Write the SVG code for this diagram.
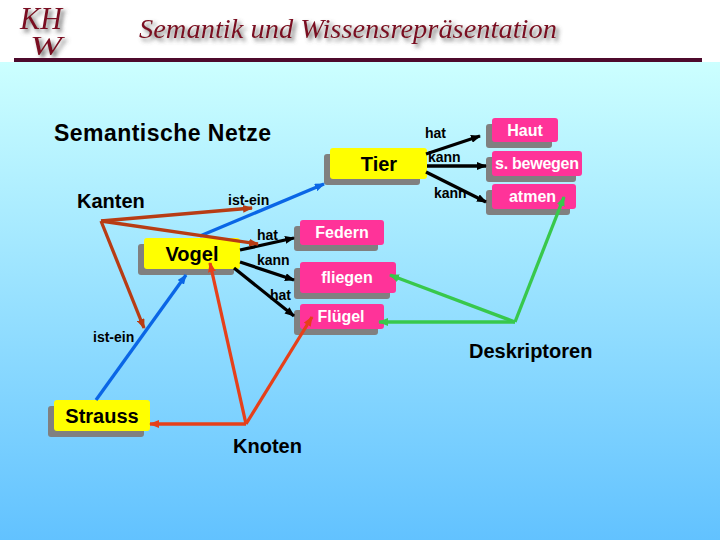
<svg xmlns="http://www.w3.org/2000/svg" width="720" height="540" viewBox="0 0 720 540">
<defs>
<linearGradient id="bg" x1="0" y1="0" x2="0" y2="1"><stop offset="0" stop-color="#ccffff"/><stop offset="1" stop-color="#62c2ff"/></linearGradient>
<filter id="soft" x="-5%" y="-30%" width="112%" height="170%"><feDropShadow dx="3" dy="3" stdDeviation="2" flood-color="#555" flood-opacity=".9"/></filter>
<marker id="aK" markerUnits="userSpaceOnUse" markerWidth="10" markerHeight="8" refX="9" refY="4" orient="auto"><path d="M0 0L10 4L0 8Z" fill="#000"/></marker>
<marker id="aB" markerUnits="userSpaceOnUse" markerWidth="10" markerHeight="8" refX="9" refY="4" orient="auto"><path d="M0 0L10 4L0 8Z" fill="#0a66e6"/></marker>
<marker id="aR" markerUnits="userSpaceOnUse" markerWidth="10" markerHeight="8" refX="9" refY="4" orient="auto"><path d="M0 0L10 4L0 8Z" fill="#b83c14"/></marker>
<marker id="aO" markerUnits="userSpaceOnUse" markerWidth="10" markerHeight="8" refX="9" refY="4" orient="auto"><path d="M0 0L10 4L0 8Z" fill="#e6401a"/></marker>
<marker id="aG" markerUnits="userSpaceOnUse" markerWidth="10" markerHeight="8" refX="9" refY="4" orient="auto"><path d="M0 0L10 4L0 8Z" fill="#38c84c"/></marker>
</defs>
<style>
text{font-family:"Liberation Sans",Arial,sans-serif;fill:#000;font-weight:bold}
.s{fill:#808080}
.y{fill:#ffff00}
.p{fill:#ff3399}
.n{font-size:20px;text-anchor:middle}
.d{font-size:16px;fill:#fff;text-anchor:middle}
.l{font-size:14px}
.h{font-size:20px}
.c{fill:none;stroke-width:3.300}
.k{stroke:#000}.b{stroke:#0a66e6}.r{stroke:#b83c14}.o{stroke:#e6401a}.g{stroke:#38c84c}
.t{font-family:"Liberation Serif",serif;font-style:italic;font-weight:normal;fill:#7a1020}
</style>
<rect width="720" height="540" fill="#fff"/>
<rect y="62" width="720" height="478" fill="url(#bg)"/>
<g id="header">
<g filter="url(#soft)">
<text class="t" x="20" y="29" font-size="32" font-weight="bold" textLength="42" lengthAdjust="spacingAndGlyphs">KH</text>
<text class="t" x="30" y="55" font-size="28" font-weight="bold" textLength="32" lengthAdjust="spacingAndGlyphs">W</text>
<text class="t" x="139" y="38" font-size="27" textLength="418" lengthAdjust="spacingAndGlyphs">Semantik und Wissensrepräsentation</text>
</g>
<rect x="14" y="58" width="688" height="4" fill="#4d0a2c"/>
</g>
<text class="h" x="54" y="141" style="font-size:23px" textLength="217">Semantische Netze</text>
<text class="h" x="77" y="208">Kanten</text>
<text class="h" x="233" y="453">Knoten</text>
<text class="h" x="469" y="358">Deskriptoren</text>
<g id="labels">
<text class="l" x="425" y="138">hat</text>
<text class="l" x="428" y="162">kann</text>
<text class="l" x="434" y="198">kann</text>
<text class="l" x="228" y="205">ist-ein</text>
<text class="l" x="257" y="240">hat</text>
<text class="l" x="257" y="265">kann</text>
<text class="l" x="270" y="300">hat</text>
<text class="l" x="93" y="342">ist-ein</text>
</g>
<g id="Tier"><rect class="s" x="324" y="154" width="96" height="31" rx="3"/><rect class="y" x="330" y="148" width="97" height="31" rx="3"/><text class="n" x="379" y="171">Tier</text></g>
<g id="Vogel"><rect class="s" x="138" y="244" width="96" height="31" rx="3"/><rect class="y" x="144" y="238" width="96" height="31" rx="3"/><text class="n" x="192" y="261">Vogel</text></g>
<g id="Strauss"><rect class="s" x="48" y="406" width="96" height="31" rx="3"/><rect class="y" x="54" y="400" width="96" height="31" rx="3"/><text class="n" x="102" y="423">Strauss</text></g>
<g id="Haut"><rect class="s" x="486" y="124" width="66" height="24" rx="3"/><rect class="p" x="492" y="118" width="66" height="24" rx="3"/><text class="d" x="525" y="136">Haut</text></g>
<g id="bewegen"><rect class="s" x="486" y="157" width="90" height="25" rx="3"/><rect class="p" x="492" y="151" width="90" height="25" rx="3"/><text class="d" x="537" y="169" textLength="84">s. bewegen</text></g>
<g id="atmen"><rect class="s" x="486" y="190" width="84" height="25" rx="3"/><rect class="p" x="492" y="184" width="84" height="25" rx="3"/><text class="d" x="532.500" y="202">atmen</text></g>
<g id="Federn"><rect class="s" x="294" y="226" width="84" height="25" rx="3"/><rect class="p" x="300" y="220" width="84" height="25" rx="3"/><text class="d" x="342" y="238">Federn</text></g>
<g id="fliegen"><rect class="s" x="294" y="268" width="96" height="31" rx="3"/><rect class="p" x="300" y="262" width="96" height="31" rx="3"/><text class="d" x="347" y="283">fliegen</text></g>
<g id="Fluegel"><rect class="s" x="294" y="310" width="84" height="25" rx="3"/><rect class="p" x="300" y="304" width="84" height="25" rx="3"/><text class="d" x="341" y="322">Flügel</text></g>
<g id="connectors">
<line class="c k" x1="426" y1="154" x2="480" y2="136" marker-end="url(#aK)"/>
<line class="c k" x1="427" y1="166" x2="486" y2="166" marker-end="url(#aK)"/>
<line class="c k" x1="426" y1="172" x2="486" y2="202" marker-end="url(#aK)"/>
<line class="c k" x1="240" y1="250" x2="294" y2="238" marker-end="url(#aK)"/>
<line class="c k" x1="240" y1="262" x2="294" y2="280" marker-end="url(#aK)"/>
<line class="c k" x1="234" y1="268" x2="294" y2="316" marker-end="url(#aK)"/>
<line class="c b" x1="200" y1="236" x2="324" y2="184" marker-end="url(#aB)"/>
<line class="c b" x1="96" y1="400" x2="186" y2="275" marker-end="url(#aB)"/>
<line class="c r" x1="101" y1="221" x2="252" y2="208" marker-end="url(#aR)"/>
<line class="c r" x1="101" y1="221" x2="258" y2="244" marker-end="url(#aR)"/>
<line class="c r" x1="101" y1="221" x2="144" y2="328" marker-end="url(#aR)"/>
<line class="c o" x1="246" y1="424" x2="150" y2="424" marker-end="url(#aO)"/>
<line class="c o" x1="246" y1="424" x2="210" y2="263" marker-end="url(#aO)"/>
<line class="c o" x1="246" y1="424" x2="312" y2="317" marker-end="url(#aO)"/>
<line class="c g" x1="515" y1="322" x2="564" y2="197" marker-end="url(#aG)"/>
<line class="c g" x1="515" y1="322" x2="390" y2="275" marker-end="url(#aG)"/>
<line class="c g" x1="515" y1="322" x2="379" y2="322" marker-end="url(#aG)"/>
</g>
</svg>
